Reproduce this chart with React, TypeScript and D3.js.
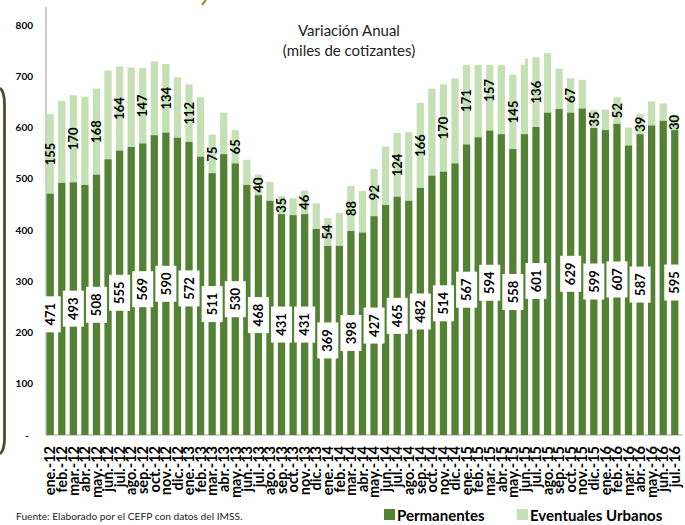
import React from "react";
import * as d3 from "d3";

const categories = [
  "ene.-12","feb.-12","mar.-12","abr.-12","may.-12","jun.-12","jul.-12","ago.-12","sep.-12","oct.-12","nov.-12","dic.-12",
  "ene.-13","feb.-13","mar.-13","abr.-13","may.-13","jun.-13","jul.-13","ago.-13","sep.-13","oct.-13","nov.-13","dic.-13",
  "ene.-14","feb.-14","mar.-14","abr.-14","may.-14","jun.-14","jul.-14","ago.-14","sep.-14","oct.-14","nov.-14","dic.-14",
  "ene.-15","feb.-15","mar.-15","abr.-15","may.-15","jun.-15","jul.-15","ago.-15","sep.-15","oct.-15","nov.-15","dic.-15",
  "ene.-16","feb.-16","mar.-16","abr.-16","may.-16","jun.-16","jul.-16",
];

const permanentes = [
  471, 492, 493, 488, 508, 538, 555, 562, 569, 585, 590, 580,
  572, 543, 511, 548, 530, 488, 468, 457, 431, 429, 431, 402,
  369, 369, 398, 395, 427, 449, 465, 457, 482, 506, 514, 530,
  567, 581, 594, 587, 558, 587, 601, 629, 636, 629, 637, 599,
  595, 607, 565, 587, 604, 613, 595,
];

const eventuales = [
  155, 160, 170, 172, 168, 173, 164, 155, 147, 144, 134, 118,
  112, 116, 75, 81, 65, 49, 40, 37, 35, 33, 46, 50,
  54, 64, 88, 81, 92, 114, 124, 134, 166, 170, 170, 166,
  171, 160, 157, 140, 145, 148, 136, 116, 79, 67, 56, 35,
  40, 52, 35, 39, 47, 34, 30,
];

// months whose values are written on the bars
const labeledMonths = [
  "ene.-12","mar.-12","may.-12","jul.-12","sep.-12","nov.-12",
  "ene.-13","mar.-13","may.-13","jul.-13","sep.-13","nov.-13",
  "ene.-14","mar.-14","may.-14","jul.-14","sep.-14","nov.-14",
  "ene.-15","mar.-15","may.-15","jul.-15","oct.-15","dic.-15",
  "feb.-16","abr.-16","jul.-16",
];

const yTicks = [0, 100, 200, 300, 400, 500, 600, 700, 800];
const titleLines = ["Variación Anual", "(miles de cotizantes)"];
const seriesNames = ["Permanentes", "Eventuales Urbanos"];
const source = "Fuente: Elaborado por el CEFP con datos del IMSS.";

const DARK = "#548235";
const LIGHT = "#C5E0B4";
const FONT = "Lato, 'Open Sans', sans-serif";

export default function App() {
  const W = 685, H = 525;
  const x = d3.scaleBand<string>().domain(categories).range([46, 679]).paddingInner(0.37).paddingOuter(0.05);
  const y = d3.scaleLinear().domain([0, 800]).range([435, 25]);
  const bw = x.bandwidth();

  return (
    <svg width={W} height={H} style={{ position: "absolute", left: 0, top: 0, background: "#fff" }} fontFamily={FONT}>
      {/* frame fragments */}
      <path d="M0,88 Q4.5,92 4.5,104 L4.5,438 Q4.5,450 0,454" fill="none" stroke="#4d4a30" strokeWidth={2.8} />
      <path d="M206,0 L202,5" stroke="#a08c3c" strokeWidth={2.2} fill="none" />
      <path d="M384,0 L380,5" stroke="#a08c3c" strokeWidth={2.2} fill="none" />

      {/* axes */}
      <line x1={46} x2={46} y1={7} y2={435} stroke="#bfbfbf" strokeWidth={1.5} />
      <line x1={46} x2={683} y1={435} y2={435} stroke="#a6a6a6" strokeWidth={1.2} />
      {yTicks.map((t) => (
        <text key={t} x={t === 0 ? 29 : 33} y={y(t)} dy="0.35em" textAnchor="end" fontSize={10} fontWeight={700} fill="#000">
          {t === 0 ? "-" : t}
        </text>
      ))}

      {/* bars */}
      {categories.map((c, i) => {
        const x0 = x(c)!;
        const p = permanentes[i];
        const e = eventuales[i];
        return (
          <g key={c}>
            <rect x={x0} width={bw} y={y(p + e)} height={y(p) - y(p + e)} fill={LIGHT} />
            <rect x={x0} width={bw} y={y(p)} height={y(0) - y(p)} fill={DARK} />
          </g>
        );
      })}

      {/* white title box over the plot */}
      <rect x={250} y={0} width={275} height={65} fill="#fff" />
      {titleLines.map((t, i) => (
        <text key={t} x={349} y={36 + i * 20} textAnchor="middle" fontSize={15} fill="#222">{t}</text>
      ))}

      {/* value labels */}
      {categories.map((c, i) => {
        if (!labeledMonths.includes(c)) return null;
        const cx = x(c)! + bw / 2;
        const p = permanentes[i];
        const e = eventuales[i];
        const py = y(p / 2);
        const ey = y(p + e / 2);
        return (
          <g key={"l" + c}>
            <rect x={cx - 10.5} y={py - 18} width={21} height={36} fill="#fff" />
            <text transform={`translate(${cx},${py}) rotate(-90)`} textAnchor="middle" dy="0.36em" fontSize={13} fontWeight={700} fill="#000">{p}</text>
            <text transform={`translate(${cx},${ey}) rotate(-90)`} textAnchor="middle" dy="0.36em" fontSize={13} fontWeight={700} fill="#000">{e}</text>
          </g>
        );
      })}

      {/* x labels */}
      {categories.map((c) => (
        <text key={"x" + c} transform={`translate(${x(c)! + bw / 2},446) rotate(-90)`} textAnchor="end" dy="0.36em" fontSize={14.5} fontWeight={700} fill="#000">{c}</text>
      ))}

      {/* source */}
      <text x={16} y={520} fontSize={10.2} fill="#222">{source}</text>

      {/* legend */}
      <rect x={384} y={509} width={11} height={11} fill={DARK} />
      <text x={397} y={520.5} fontSize={15} fontWeight={700} fill="#000">{seriesNames[0]}</text>
      <rect x={517} y={509} width={11} height={11} fill={LIGHT} />
      <text x={530} y={520.5} fontSize={15} fontWeight={700} fill="#000">{seriesNames[1]}</text>
    </svg>
  );
}
